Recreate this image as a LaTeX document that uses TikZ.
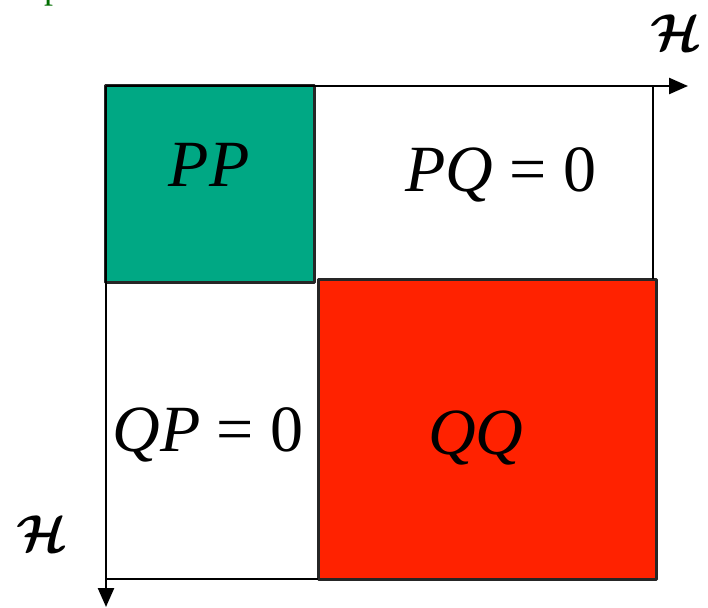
\documentclass[tikz,border=0pt]{standalone}
\usepackage{fontspec}
\usepackage{amsmath,amssymb}
\setmainfont{Liberation Serif}
\usetikzlibrary{arrows.meta}
\definecolor{cellgreen}{RGB}{0,168,132}
\definecolor{cellred}{RGB}{255,34,0}
\definecolor{titlegreen}{RGB}{0,110,0}
\tikzset{
  cell/.style={draw=black!85,line width=3pt},
  blocktext/.style={font=\fontsize{66}{72}\selectfont,inner sep=0pt,anchor=base},
  space/.style={inner sep=0pt}
}
\newcommand{\spaceH}{\scalebox{5.2}{$\boldsymbol{\mathcal{H}}$}}
\begin{document}
\begin{tikzpicture}[x=1pt,y=-1pt,line join=round,>={Triangle[length=19pt,width=16pt]}]
\useasboundingbox (0,0) rectangle (708,607);
% cut-off word at the top
\node[font=\fontsize{36}{40}\selectfont,text=titlegreen,inner sep=0pt,anchor=base west] (title) at (44,-1) {p};
% the two blocks
\fill[cellgreen] (105,86) rectangle (314,282);
\draw[cell] (105,86) rectangle (314,282);
\fill[cellred] (318,279) rectangle (656,579);
\draw[cell] (318,279) rectangle (656,579);
\path
(106,86) coordinate (O)
(688,86) coordinate (X)
(106,607) coordinate (Y)
(653,86) coordinate (R)
(653,279) coordinate (R')
(318,579) coordinate (B);
\draw[line width=2.5pt,->] (O)--(X);
\draw[line width=2.5pt,->] (O)--(Y);
\draw[line width=2.5pt] (R)--(R');
\draw[line width=2.5pt] (O|-B)--(B);
% labels
\node[blocktext] (pp) at (209,186) {\itshape PP};
\node[blocktext] (pq) at (501,191) {\itshape PQ\/ \upshape= 0};
\node[blocktext] (qp) at (208,451) {\itshape QP\/ \upshape= 0};
\node[blocktext] (qq) at (476,454) {\itshape QQ};
\node[space] (hx) at (676,33) {\spaceH};
\node[space] (hy) at (42,534) {\spaceH};
\end{tikzpicture}
\end{document}
